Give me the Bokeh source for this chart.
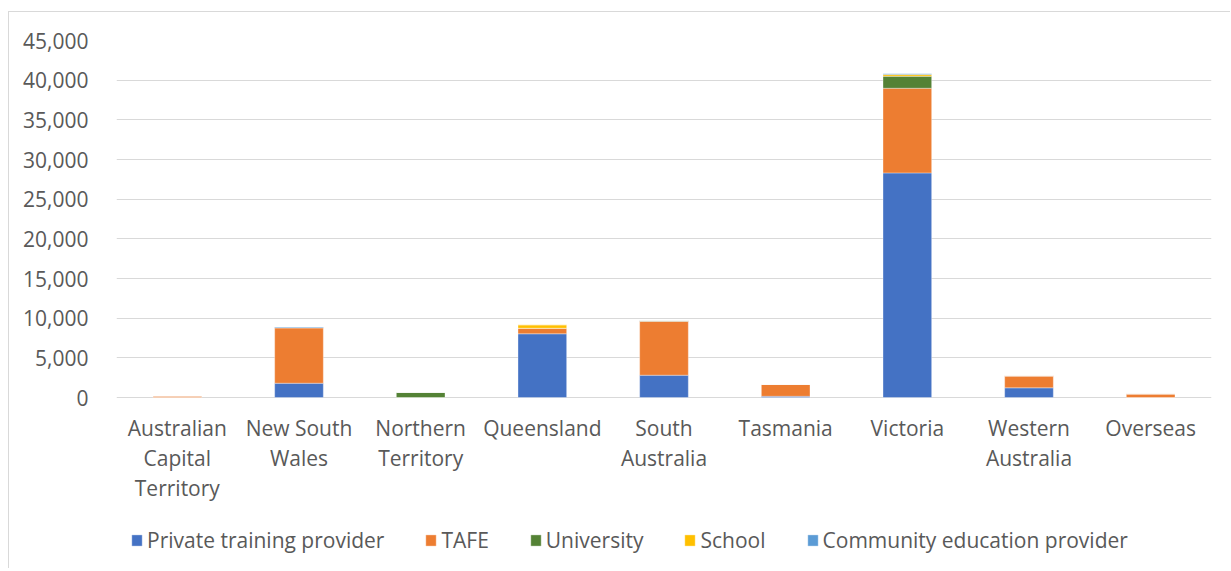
from bokeh.plotting import figure
from bokeh.models import (FactorRange, Range1d, FixedTicker, NumeralTickFormatter,
                          Legend, LegendItem, ColumnDataSource)
from bokeh.core.properties import value
from bokeh.embed import file_html
from bokeh.resources import INLINE

states = ["Australian\nCapital\nTerritory", "New South\nWales", "Northern\nTerritory",
          "Queensland", "South\nAustralia", "Tasmania", "Victoria",
          "Western\nAustralia", "Overseas"]
series = ["Private training provider", "TAFE", "University", "School",
          "Community education provider"]
private = [0, 1800, 0, 8030, 2810, 150, 28310, 1220, 0]
tafe = [200, 7000, 0, 700, 6810, 1500, 10670, 1510, 460]
university = [0, 0, 630, 0, 50, 0, 1510, 0, 0]
school = [0, 0, 0, 430, 0, 0, 210, 0, 0]
community = [0, 100, 0, 0, 0, 0, 120, 0, 0]
y_ticks = [0, 5000, 10000, 15000, 20000, 25000, 30000, 35000, 40000, 45000]

colors = ["#4472C4", "#ED7D31", "#548235", "#FFC000", "#5B9BD5"]
FONT = "Open Sans"
FS = "21px"
TXT = "#595959"
GRID = "#d9d9d9"

# layout (pixels)
FIG_W, FIG_H = 1222, 557
TOP, LEFT, RIGHT = 28, 107, 20
DATA_PX = 357            # pixels from 0 to 45000
frame_h = FIG_H - TOP
y_max = y_ticks[-1]
y_min = -y_max * (frame_h - DATA_PX) / DATA_PX

data = ColumnDataSource(dict(state=states, p=private, t=tafe, u=university,
                             s=school, c=community, zero=[0] * len(states)))
keys = ["p", "t", "u", "s", "c"]

p = figure(x_range=FactorRange(*states), y_range=Range1d(y_min, y_max),
           width=FIG_W, height=FIG_H, output_backend="svg", toolbar_location=None,
           min_border_left=LEFT, min_border_right=RIGHT, min_border_top=TOP,
           min_border_bottom=0)
p.margin = (11, 0, 0, 8)
p.styles = {"border-left": "1px solid #d9d9d9", "border-top": "1px solid #d9d9d9"}

renderers = p.vbar_stack(keys, x="state", width=0.4, source=data, color=colors,
                         line_color="white", line_alpha=0.35, line_width=1)

p.outline_line_color = None
p.xgrid.grid_line_color = None
p.ygrid.grid_line_color = GRID
p.ygrid.grid_line_width = 1
p.yaxis.ticker = FixedTicker(ticks=y_ticks)
p.yaxis.formatter = NumeralTickFormatter(format="0,0")
p.yaxis.axis_line_color = None
p.yaxis.major_tick_line_color = None
p.yaxis.minor_tick_line_color = None
p.yaxis.major_label_standoff = 22
p.yaxis.major_label_text_font = FONT
p.yaxis.major_label_text_font_size = FS
p.yaxis.major_label_text_color = TXT
p.xaxis.visible = False

# category labels under the zero line
p.text(x="state", y="zero", text="state", source=data,
       text_font=value(FONT), text_font_size=FS, text_color=TXT,
       text_align="center", text_baseline="top", y_offset=16,
       text_line_height=1.08)

items = [LegendItem(label=s, renderers=[r]) for s, r in zip(series, renderers)]
legend = Legend(items=items, orientation="horizontal", location=(14, 15),
                glyph_width=13, glyph_height=14, label_standoff=4, spacing=40,
                label_text_font=FONT, label_text_font_size=FS,
                label_text_color=TXT, border_line_color=None,
                background_fill_alpha=0, padding=2, margin=0)
p.add_layout(legend, "center")

open("out.html", "w").write(file_html(p, INLINE))
